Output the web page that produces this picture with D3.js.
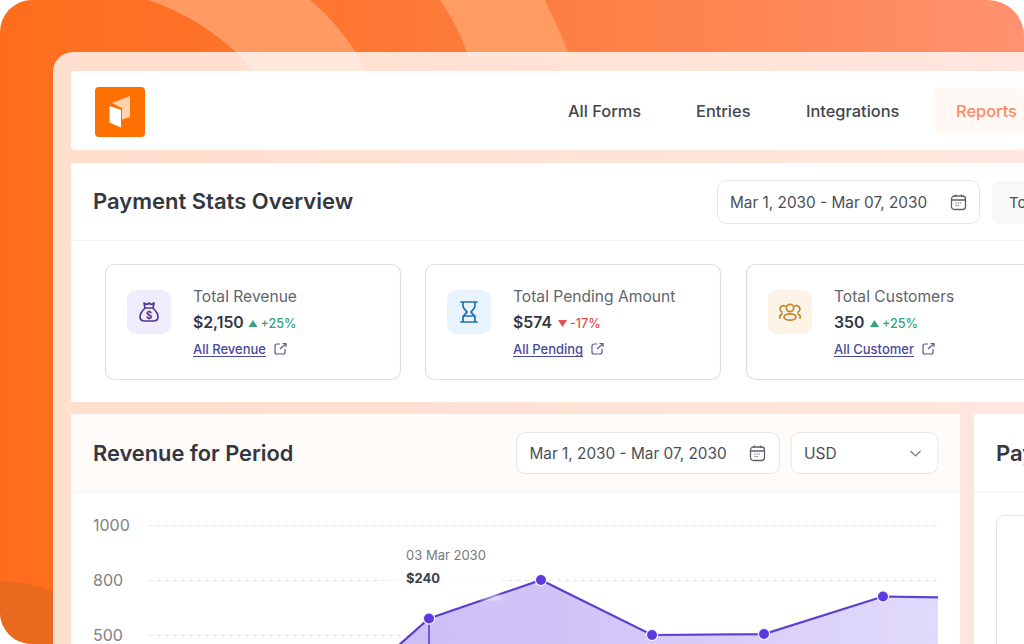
<!DOCTYPE html>
<html><head><meta charset="utf-8">
<script src="https://cdn.jsdelivr.net/npm/d3@7/dist/d3.min.js"></script>
<style>html,body{margin:0;padding:0;background:#fff;overflow:hidden}svg{display:block}text{font-family:Inter,"Noto Sans",sans-serif}</style>
</head><body><svg id="c" width="1024" height="644"></svg>
<script>
// ---- chart data
const days = [2, 3, 4, 5, 6, 7, 7.5];
const revenue = [150, 590, 800, 500, 505, 710, 705];
const yTicks = [1000, 800, 500];
const yScaleStops = [0, 300, 500, 800, 1000];
const tooltipDay = 3;
const tooltipDate = "03 Mar 2030";
const tooltipValue = "$240";
// ---- ui text
const navItems = ["All Forms", "Entries", "Integrations", "Reports"];
const dateRange = "Mar 1, 2030 - Mar 07, 2030";
const cardTitles = ["Total Revenue", "Total Pending Amount", "Total Customers"];
const cardValues = ["$2,150", "$574", "350"];
const cardDeltas = ["+25%", "-17%", "+25%"];
const cardLinks = ["All Revenue", "All Pending", "All Customer"];

const svg = d3.select("#c"), defs = svg.append("defs");
const grad = (id, stops, x2=1, y2=0) => { const g = defs.append("linearGradient").attr("id", id).attr("x1",0).attr("y1",0).attr("x2",x2).attr("y2",y2);
  stops.forEach(s => g.append("stop").attr("offset", s[0]).attr("stop-color", s[1]).attr("stop-opacity", s[2] ?? 1)); };
grad("bg", [[0,"#ff6d1c"],[0.35,"#fd7632"],[0.7,"#fe8450"],[1,"#ff9270"]]);
grad("area", [[0,"#c8b9f5"],[0.4,"#cec1f7"],[1,"#e0d8fb"]]);
defs.append("clipPath").attr("id","outer").append("path").attr("d","M32 0H988A36 36 0 0 1 1024 36V644H32A32 32 0 0 1 0 612V32A32 32 0 0 1 32 0Z");
const blur=(id,s)=>defs.append("filter").attr("id",id).attr("x","-40%").attr("y","-40%").attr("width","180%").attr("height","180%").append("feGaussianBlur").attr("stdDeviation",s);
blur("blur",9); blur("blur2",2);

const root = svg.append("g").attr("clip-path","url(#outer)");
root.append("rect").attr("width",1024).attr("height",644).attr("fill","url(#bg)");
// decorative bands
root.append("path").attr("d","M148 0C185 12 215 32 240 56C250 68 258 80 265 90H372C365 60 340 25 310 0Z").attr("fill","#ff9a63");
root.append("path").attr("d","M440 0C452 18 462 36 468 56H570C562 36 552 16 545 0Z").attr("fill","#ff9c62");
root.append("path").attr("d","M0 581C20 582 40 586 53 592V644H0Z").attr("fill","#e9691f");

// glass frame
root.append("path").attr("d","M73 52H1024V644H53V72A20 20 0 0 1 73 52Z").attr("fill","#fff").attr("opacity",.78);
const panel=(x,y,w,h,f="#fff",r=0)=>root.append("rect").attr("x",x).attr("y",y).attr("width",w).attr("height",h).attr("fill",f).attr("rx",r);
panel(71,71,953,79,"#fff",4);
panel(71,163,953,239);
panel(71,414,889,230);
panel(71,414,889,78,"#fffbf8");
panel(974,414,50,230);
const hline=(x1,x2,y,c="#f4f1ef")=>root.append("line").attr("x1",x1).attr("x2",x2).attr("y1",y+.5).attr("y2",y+.5).attr("stroke",c);
hline(71,1024,240); hline(71,960,491,"#f8f3ef"); hline(974,1024,491,"#f6f3f1");

const txt=(x,y,s,size,fill,weight=400,anchor="start")=>root.append("text").attr("x",x).attr("y",y).text(s).attr("font-size",size).attr("fill",fill).attr("font-weight",weight).attr("text-anchor",anchor);

// logo
panel(95,87,50,50,"#ff7000",4);
root.append("path").attr("d","M112 103L130 96V117L122 119.5V108Z").attr("fill","#ffd3b0");
root.append("path").attr("d","M109.5 106L121 110V127.5L109.5 122.5Z").attr("fill","#fff");

// nav
panel(934,87,90,48,"#fff8f3",8);
[568,696,806,956].forEach((x,i)=>txt(x,116.5,navItems[i],16.4,i==3?"#f98a6a":"#43474f",500));

// calendar icon
function cal(x,y){const g=root.append("g").attr("transform",`translate(${x},${y})`).attr("fill","none").attr("stroke","#5c6068").attr("stroke-width",1.3);
  g.append("rect").attr("x",0).attr("y",1.5).attr("width",14).attr("height",13.5).attr("rx",3);
  g.append("path").attr("d","M0 5.5H14M4 0V2.5M10 0V2.5");
  g.append("path").attr("d","M4 8.5H10M4 11H8").attr("stroke-width",1).attr("stroke-dasharray","1.2 1");}
function box(x,y,w,h,f="#fff"){root.append("rect").attr("x",x+.5).attr("y",y+.5).attr("width",w).attr("height",h).attr("rx",9).attr("fill",f).attr("stroke","#e8e6e5");}

txt(93,209,"Payment Stats Overview",22,"#33373f",600);
box(717,180,262,43); txt(730,207.5,dateRange,15.35,"#4b4f57",400); cal(951.5,194.5);
panel(992,181,40,43,"#f8f8f8",8); txt(1009,207.5,"To",15,"#4b4f57");

// stat cards
const cardX=[105,425,746], iconBg=["#f0ecfc","#e8f3fd","#fdf3e7"], iconC=["#4c3a96","#1f6fb2","#c5852b"], deltaC=["#35a37b","#e2504e","#35a37b"], up=[1,0,1], linkUnder=[73,70,80];
const valW=[48.5,38,29];
cardX.forEach((x,i)=>{
  root.append("rect").attr("x",x+.5).attr("y",264.5).attr("width",i==2?400:295).attr("height",115).attr("rx",9).attr("fill","#fff").attr("stroke","#dfdedd").attr("stroke-width",1.2);
  root.append("rect").attr("x",x+22).attr("y",290).attr("width",44).attr("height",44).attr("rx",9).attr("fill",iconBg[i]);
  const ic=root.append("g").attr("transform",`translate(${x+44},312)`).attr("fill","none").attr("stroke",iconC[i]).attr("stroke-width",1.7).attr("stroke-linejoin","round").attr("stroke-linecap","round");
  if(i==0){ic.append("path").attr("d","M-4 -4C-7 -1 -9 2 -9 5C-9 8 -7 9 -4 9H4C7 9 9 8 9 5C9 2 7 -1 4 -4M-4 -4H4M-4 -4L-5 -9L-2 -7.5L0 -9L2 -7.5L5 -9L4 -4");
    ic.append("text").attr("x",0).attr("y",6.5).attr("text-anchor","middle").attr("font-size",10).attr("font-weight",700).attr("fill",iconC[i]).attr("stroke","none").text("$");}
  if(i==1){ic.append("path").attr("d","M-8 -10H8M-8 10H8M-6 -10V-6C-6 -3 -3 -2 -2 0C-3 2 -6 3 -6 6V10M6 -10V-6C6 -3 3 -2 2 0C3 2 6 3 6 6V10M-6 4H6");}
  if(i==2){ic.append("circle").attr("cx",0).attr("cy",-4).attr("r",3.6);ic.append("ellipse").attr("cx",0).attr("cy",5).attr("rx",6).attr("ry",3.2);
    ic.append("path").attr("d","M-5 -6A3 3 0 0 0 -8 0M5 -6A3 3 0 0 1 8 0M-8 2C-10 3 -11 4 -10 6M8 2C10 3 11 4 10 6");}
  const tx=x+88;
  txt(tx,302,cardTitles[i],15.6,"#62656c");
  txt(tx,328,cardValues[i],15.8,"#33373f",600);
  const dx=tx+valW[i]+8;
  root.append("path").attr("d",up[i]?`M${dx-1} 327H${dx+8}L${dx+3.5} 320Z`:`M${dx-1} 320H${dx+8}L${dx+3.5} 327Z`).attr("fill",deltaC[i]);
  txt(dx+11,327.5,cardDeltas[i],12.6,deltaC[i],500);
  txt(tx,354,cardLinks[i],13,"#4a4a9a",500);
  root.append("line").attr("x1",tx).attr("x2",tx+linkUnder[i]).attr("y1",356.5).attr("y2",356.5).attr("stroke","#4a4a9a");
  const lx=tx+linkUnder[i]+9;
  root.append("path").attr("d",`M${lx+5} ${344}H${lx+2}A2 2 0 0 0 ${lx} ${346}V${352}A2 2 0 0 0 ${lx+2} ${354}H${lx+8}A2 2 0 0 0 ${lx+10} ${352}V${349}M${lx+5} ${349}L${lx+11} ${343.5}M${lx+7.5} ${343.5}H${lx+11}V${347}`).attr("fill","none").attr("stroke","#5a5a90").attr("stroke-width",1.2);
});

// revenue header
txt(93,461,"Revenue for Period",21.8,"#33373f",600);
box(516,432,263,41); txt(529.5,458.5,dateRange,15.35,"#4b4f57"); cal(750.5,445.5);
box(790.5,432,147,41); txt(804,458.5,"USD",15.5,"#4b4f57");
root.append("path").attr("d","M910.5 451L915.5 456L920.5 451").attr("fill","none").attr("stroke","#777").attr("stroke-width",1.2);

// payment panel
txt(996,461,"Pay",22,"#33373f",600);
root.append("rect").attr("x",996.5).attr("y",515.5).attr("width",60).attr("height",160).attr("rx",8).attr("fill","#fff").attr("stroke","#e6e4e3");

// chart
const x=d3.scaleLinear().domain(days).range([317,429,541,652,764,883,938]);
const y=d3.scaleLinear().domain(yScaleStops).range([745,690,635,580,525]);
const grid=root.append("g").attr("class","grid")
  .call(d3.axisLeft(y).tickValues(yTicks).tickFormat(d3.format("d")).tickSize(0).tickPadding(0));
grid.select(".domain").remove();
grid.selectAll("text").attr("x",93).attr("text-anchor","start").attr("font-size",16).attr("fill","#808285").attr("dy","0.36em").style("font-family","Inter");
grid.selectAll(".tick").append("line").attr("x1",149).attr("x2",938).attr("stroke","#e6e5e5").attr("stroke-dasharray","4 4");

const pts=days.map((d,i)=>({d,v:revenue[i]}));
root.append("path").datum(pts).attr("fill","url(#area)").attr("opacity",.95).attr("d",d3.area().x(p=>x(p.d)).y0(744).y1(p=>y(p.v)));
root.append("line").attr("x1",x(tooltipDay)).attr("x2",x(tooltipDay)).attr("y1",y(revenue[1])).attr("y2",644).attr("stroke","#5b3fd0").attr("stroke-width",1.6);
// tooltip
root.append("rect").attr("x",392).attr("y",540).attr("width",108).attr("height",50).attr("rx",6).attr("fill","#fff").attr("opacity",.9).attr("filter","url(#blur)");
root.append("path").datum(pts).attr("fill","none").attr("stroke","#5a3fd0").attr("stroke-width",2.2).attr("d",d3.line().x(p=>x(p.d)).y(p=>y(p.v)));
root.append("rect").attr("x",480).attr("y",594).attr("width",20).attr("height",5).attr("rx",2).attr("fill","#fff").attr("opacity",.6).attr("filter","url(#blur2)");
root.selectAll("circle.pt").data(pts.filter(p=>p.d>=3&&p.d<=7)).join("circle").attr("class","pt").attr("cx",p=>x(p.d)).attr("cy",p=>y(p.v)).attr("r",5.6).attr("fill","#5b3be0").attr("stroke","#f3efff").attr("stroke-width",1.2);
txt(406,560,tooltipDate,13,"#777a80");
txt(406,582.5,tooltipValue,13,"#3c3f46",700);
</script></body></html>
